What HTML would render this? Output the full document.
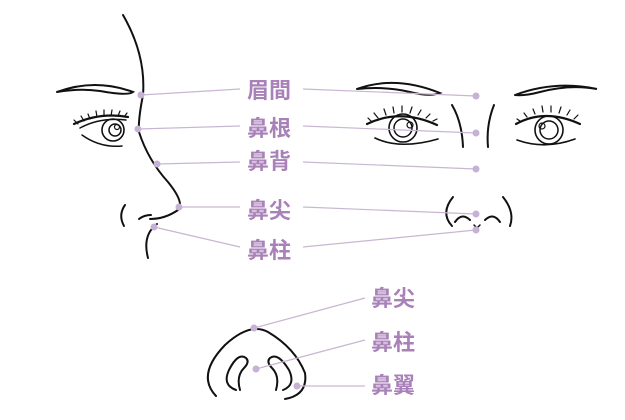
<!DOCTYPE html>
<html><head><meta charset="utf-8"><style>
body{margin:0;background:#fff}
svg{display:block}
text{font-family:"Liberation Sans","Noto Sans CJK JP",sans-serif;font-weight:bold;font-size:22px;fill:#a881b8}
</style></head><body>
<svg width="625" height="420" viewBox="0 0 625 420" xmlns="http://www.w3.org/2000/svg">
<g fill="none" stroke="#111" stroke-width="2" stroke-linecap="round">
<path d="M123,15 Q146,55 143,95 Q138,120 139,132 Q148,160 168,182 Q185,203 178,210 Q165,219 150,219"/>
<path d="M157,224 Q142,235 148,258"/>
<path d="M125,205 Q118,215 124,226"/>
<path d="M139,219 Q144,215 151,215"/>
<path d="M57,92 Q95,78 133,92 Q128,96 100,91 Q80,88 57,92"/>
<path d="M74,124 Q100,112 128,117" stroke-width="2.2"/>
<path d="M80,128 Q100,117 126,120" stroke-width="1.5"/>
<path d="M82,135 Q100,148 122,146" stroke-width="1.5"/>
<circle cx="113" cy="130" r="11" stroke-width="1.6"/>
<circle cx="115" cy="130" r="6" stroke-width="1.5"/>
<circle cx="117" cy="127" r="2.5" stroke-width="1.2"/>
<g stroke-width="1.2"><path d="M78,124 l-4,-4 M84,121 l-3,-5 M90,119 l-2,-5 M97,117 l-1,-6 M104,116 l0,-6 M111,116 l1,-6 M118,116 l2,-5 M124,117 l3,-4"/></g>
<path d="M357,89 Q395,75 440,93 Q430,97 410,92 Q385,86 357,89"/>
<path d="M515,95 Q555,80 597,89 Q570,84 540,92 Q525,96 515,95"/>
<path d="M367,124 Q400,108 437,125" stroke-width="2.2"/>
<path d="M375,138 Q400,150 438,139" stroke-width="1.6"/>
<circle cx="403" cy="128" r="14" stroke-width="1.6"/>
<circle cx="403" cy="128" r="9" stroke-width="1.5"/>
<circle cx="410" cy="125" r="3" stroke-width="1.2"/>
<path d="M516,124 Q545,108 580,124" stroke-width="2.2"/>
<path d="M517,140 Q545,150 575,139" stroke-width="1.6"/>
<circle cx="549" cy="130" r="14" stroke-width="1.6"/>
<circle cx="549" cy="130" r="9" stroke-width="1.5"/>
<circle cx="542" cy="126" r="3" stroke-width="1.2"/>
<g stroke-width="1.2">
<path d="M372,122 l-4,-4 M378,118 l-4,-5 M386,115 l-2,-6 M394,113 l-1,-6 M402,112 l0,-6 M410,113 l2,-6 M418,115 l3,-5 M426,118 l4,-4 M433,121 l4,-2"/>
<path d="M520,121 l-3,-2 M527,117 l-3,-4 M535,114 l-2,-5 M543,112 l-1,-6 M551,112 l0,-6 M559,113 l2,-6 M567,115 l3,-5 M574,119 l4,-4"/>
</g>
<path d="M452,105 Q462,122 463,147"/>
<path d="M494,105 Q486,125 488,147"/>
<path d="M453,197 Q440,213 452,226"/>
<path d="M503,197 Q515,212 510,226"/>
<path d="M455,222 Q462,212 470,220"/>
<path d="M485,220 Q493,212 500,222"/>
<path d="M474,225 l3,3 l3,-3" stroke-width="1.5"/>
<path d="M216,396 Q196,375 225,345 Q250,322 268,332 Q295,348 305,373 Q308,395 285,399"/>
<path d="M236,390 Q222,385 229,370 Q238,352 246,358 Q250,362 244,368 Q236,376 240,390"/>
<path d="M283,390 Q296,385 289,370 Q278,352 270,358 Q266,362 272,368 Q280,376 276,390"/>
</g>
<g stroke="#c9b6d2" stroke-width="1.2">
<line x1="141" y1="95" x2="240" y2="89"/><line x1="303" y1="89" x2="476" y2="96"/>
<line x1="138" y1="129" x2="240" y2="126"/><line x1="303" y1="126" x2="476" y2="133"/>
<line x1="157" y1="164" x2="240" y2="162"/><line x1="303" y1="162" x2="476" y2="169"/>
<line x1="179" y1="207" x2="240" y2="207"/><line x1="303" y1="207" x2="476" y2="214"/>
<line x1="154" y1="227" x2="240" y2="247"/><line x1="303" y1="247" x2="476" y2="230"/>
<line x1="254" y1="328" x2="365" y2="298"/>
<line x1="256" y1="369" x2="365" y2="340"/>
<line x1="297" y1="386" x2="365" y2="386"/>
</g>
<g fill="#c6b2d4">
<circle cx="141" cy="95" r="3.5"/><circle cx="138" cy="129" r="3.5"/><circle cx="157" cy="164" r="3.5"/><circle cx="179" cy="207" r="3.5"/><circle cx="154" cy="227" r="3.5"/>
<circle cx="476" cy="96" r="3.5"/><circle cx="476" cy="133" r="3.5"/><circle cx="476" cy="169" r="3.5"/><circle cx="476" cy="214" r="3.5"/><circle cx="476" cy="230" r="3.5"/>
<circle cx="254" cy="328" r="3.5"/><circle cx="256" cy="369" r="3.5"/><circle cx="297" cy="386" r="3.5"/>
</g>
<text x="247" y="98">眉間</text>
<text x="247" y="136">鼻根</text>
<text x="247" y="169">鼻背</text>
<text x="247" y="218">鼻尖</text>
<text x="247" y="258">鼻柱</text>
<text x="371" y="306">鼻尖</text>
<text x="371" y="350">鼻柱</text>
<text x="371" y="393">鼻翼</text>
</svg>
</body></html>
